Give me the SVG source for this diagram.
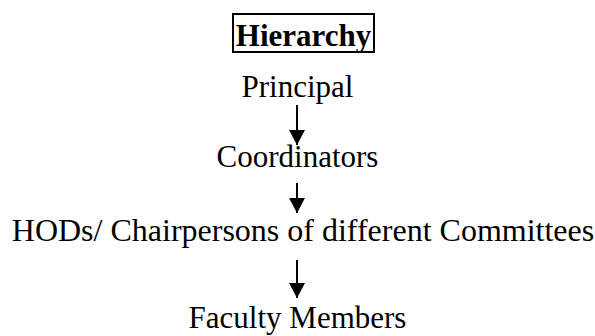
<svg xmlns="http://www.w3.org/2000/svg" width="595" height="336" viewBox="0 0 595 336">
<style>
text{font-family:"Liberation Serif","Times New Roman",serif;fill:#000;text-anchor:middle}
.t{font-size:31px}
.h{font-size:31px;font-weight:bold}
.box{fill:none;stroke:#000;stroke-width:2}
.c{stroke:#000;stroke-width:2;fill:none;marker-end:url(#ah)}
</style>
<defs>
<marker id="ah" markerUnits="userSpaceOnUse" markerWidth="16" markerHeight="16" refX="15" refY="8" orient="auto">
<path d="M0,0 L15,8 L0,16 z" fill="#000"/>
</marker>
</defs>
<rect width="595" height="336" fill="#fff"/>
<g id="title">
<rect class="box" x="233" y="14" width="141" height="38"/>
<text class="h" x="303.5" y="45.5">Hierarchy</text>
</g>
<g id="principal"><text class="t" x="297.5" y="97">Principal</text></g>
<g id="coordinators"><text class="t" x="297.5" y="167">Coordinators</text></g>
<g id="hods"><text class="t" x="303" y="241" style="font-size:32px">HODs/ Chairpersons of different Committees</text></g>
<g id="faculty"><text class="t" x="297.5" y="328">Faculty Members</text></g>
<g id="connectors">
<line class="c" x1="297" y1="105" x2="297" y2="145"/>
<line class="c" x1="297" y1="183" x2="297" y2="213"/>
<line class="c" x1="297" y1="260" x2="297" y2="298"/>
</g>
</svg>
